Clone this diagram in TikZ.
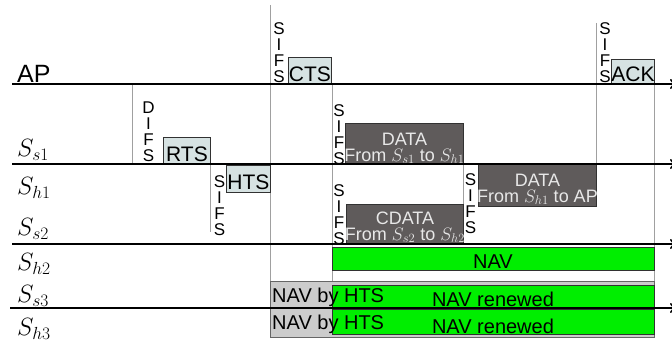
\RequirePackage{fix-cm}
\documentclass[tikz,border=0pt]{standalone}
\usepackage[no-math]{fontspec}
\setmainfont{Liberation Sans}
\usetikzlibrary{arrows.meta,calc}
\definecolor{ctlfill}{RGB}{214,226,226}
\definecolor{datafill}{RGB}{95,91,91}
\definecolor{datatext}{RGB}{232,232,232}
\definecolor{navgreen}{RGB}{0,238,0}
\definecolor{navgray}{RGB}{204,204,204}
\definecolor{guidecol}{RGB}{160,160,160}
\definecolor{edgecol}{RGB}{50,50,50}
\begin{document}
\begin{tikzpicture}[x=1pt,y=-1pt,
  lane/.style={line width=1.6pt,-{To[length=7pt,width=10pt]}},
  guide/.style={draw=guidecol,line width=0.6pt},
  ctlbox/.style={draw=edgecol,fill=ctlfill,line width=0.9pt,inner sep=0pt,anchor=north west},
  databox/.style={draw=edgecol,fill=datafill,line width=0.9pt,inner sep=0pt,anchor=north west},
  greenbox/.style={draw=edgecol,fill=navgreen,line width=1pt,inner sep=0pt,anchor=north west},
  graybox/.style={draw=black!60,fill=navgray,line width=0.9pt,inner sep=0pt,anchor=north west},
  ctltext/.style={font=\fontsize{21}{25}\selectfont,inner sep=0pt,anchor=base},
  datatxt/.style={font=\fontsize{18}{15.5}\selectfont,align=center,inner sep=0pt,text=datatext,anchor=north},
  navtext/.style={font=\fontsize{20}{24}\selectfont,inner sep=0pt},
  lbl/.style={font=\fontsize{25}{30}\selectfont,inner sep=0pt,anchor=base west},
  sifs/.style={font=\fontsize{17}{16}\selectfont,align=center,inner sep=0pt}
]
\useasboundingbox (0,0) rectangle (672,344);

% guide lines
\coordinate (g1a) at (132,84);  \coordinate (g1b) at (132,164);
\coordinate (g2a) at (270,5);   \coordinate (g2b) at (270,281);
\coordinate (g3a) at (332,84);  \coordinate (g3b) at (332,281);
\coordinate (g4a) at (210,164); \coordinate (g4b) at (210,232);
\coordinate (g5a) at (463,164); \coordinate (g5b) at (463,244);
\coordinate (g6a) at (596,23);  \coordinate (g6b) at (596,164);
\coordinate (g7a) at (654,84);  \coordinate (g7b) at (654,281);
\draw[guide] (g1a) -- (g1b);
\draw[guide] (g2a) -- (g2b);
\draw[guide] (g3a) -- (g3b);
\draw[guide] (g4a) -- (g4b);
\draw[guide] (g5a) -- (g5b);
\draw[guide] (g6a) -- (g6b);
\draw[guide] (g7a) -- (g7b);

% NAV boxes
\node[greenbox,minimum width=322pt,minimum height=23pt] (navh2) at (332,247) {};
\node[graybox,minimum width=384pt,minimum height=27pt] (navgs3) at (270,281) {};
\node[graybox,minimum width=384pt,minimum height=29pt] (navgh3) at (270,308) {};
\node[greenbox,minimum width=322pt,minimum height=24pt] (navrs3) at (332,285) {};
\node[greenbox,minimum width=322pt,minimum height=25pt] (navrh3) at (332,309) {};
\node[navtext,anchor=base] (navh2T) at (493,269) {NAV};
\node[navtext,anchor=base] (navrs3T) at (493,306.5) {NAV renewed};
\node[navtext,anchor=base] (navrh3T) at (493,333.5) {NAV renewed};
\node[navtext,anchor=base west] (navgs3T) at (272,303) {NAV by HTS};
\node[navtext,anchor=base west] (navgh3T) at (272,330) {NAV by HTS};

% control frames
\node[ctlbox,minimum width=43pt,minimum height=27pt] (cts) at (288,57) {};
\node[ctltext] (ctsT) at (cts.south |- 0,82) {CTS};
\node[ctlbox,minimum width=43pt,minimum height=25pt] (ack) at (611,59) {};
\node[ctltext] (ackT) at (ack.south |- 0,82) {ACK};
\node[ctlbox,minimum width=47pt,minimum height=27pt] (rts) at (163,137) {};
\node[ctltext] (rtsT) at (rts.south |- 0,162) {RTS};
\node[ctlbox,minimum width=44pt,minimum height=27pt] (hts) at (226,165) {};
\node[ctltext] (htsT) at (hts.south |- 0,190) {HTS};

% data frames
\node[databox,minimum width=118pt,minimum height=41pt] (d1) at (345,123) {};
\node[datatxt] (d1T) at (d1.north |- 0,133) {DATA\\From $S_{s1}$ to $S_{h1}$};
\node[databox,minimum width=118pt,minimum height=42pt] (d2) at (478,164) {};
\node[datatxt] (d2T) at (d2.north |- 0,174) {DATA\\From $S_{h1}$ to AP};
\node[databox,minimum width=117pt,minimum height=40pt] (cd) at (346,204) {};
\node[datatxt] (cdT) at (cd.north |- 0,212) {CDATA\\From $S_{s2}$ to $S_{h2}$};

% interframe spaces
\node[sifs,anchor=south] (sifsCTS) at (279,83) {S\\I\\F\\S};
\node[sifs,anchor=south] (sifsACK) at (605,83) {S\\I\\F\\S};
\node[sifs,anchor=south] (difs) at (148.5,161.5) {D\\I\\F\\S};
\node[sifs,anchor=south] (sifsD1) at (339,164.5) {S\\I\\F\\S};
\node[sifs,anchor=north] (sifsHTS) at (219.5,175) {S\\I\\F\\S};
\node[sifs,anchor=south] (sifsCD) at (339,245) {S\\I\\F\\S};
\node[sifs,anchor=north] (sifsD2) at (470.5,173) {S\\I\\F\\S};

% lanes
\coordinate (l1a) at (12,84);  \coordinate (l1b) at (677,84);
\coordinate (l2a) at (12,164); \coordinate (l2b) at (677,164);
\coordinate (l3a) at (12,244); \coordinate (l3b) at (677,244);
\coordinate (l4a) at (10,308); \coordinate (l4b) at (677,308);
\draw[lane] (l1a) -- (l1b);
\draw[lane] (l2a) -- (l2b);
\draw[lane] (l3a) -- (l3b);
\draw[lane] (l4a) -- (l4b);

% station labels
\node[lbl] (apL) at (17,83) {AP};
\node[lbl] (ss1L) at (17,157) {$S_{s1}$};
\node[lbl] (sh1L) at (17,195) {$S_{h1}$};
\node[lbl] (ss2L) at (17,236) {$S_{s2}$};
\node[lbl] (sh2L) at (17,271) {$S_{h2}$};
\node[lbl] (ss3L) at (17,303) {$S_{s3}$};
\node[lbl] (sh3L) at (17,336) {$S_{h3}$};
\end{tikzpicture}
\end{document}
